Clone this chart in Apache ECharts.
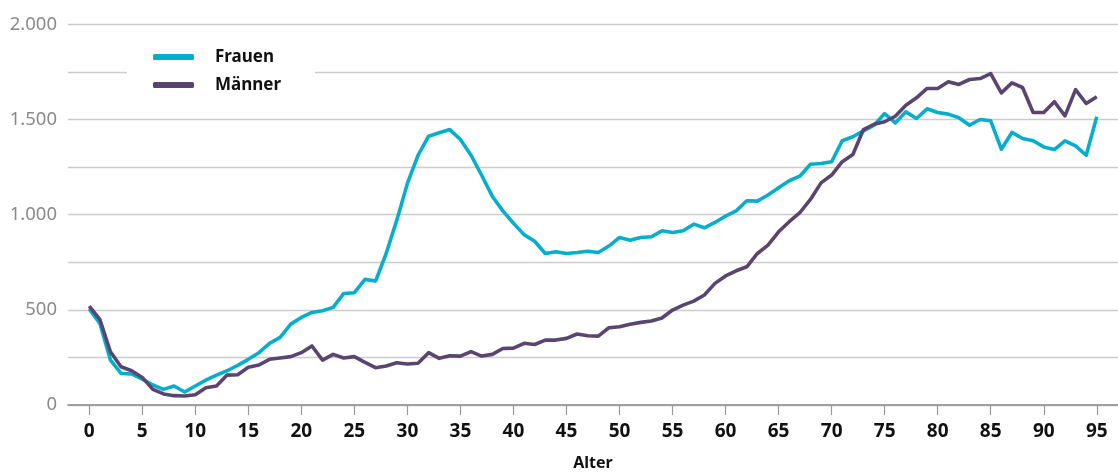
<!DOCTYPE html>
<html>
<head>
<meta charset="utf-8">
<script src="https://cdn.jsdelivr.net/npm/echarts@6/dist/echarts.min.js"></script>
<style>
html,body{margin:0;padding:0;background:#fff;}
#chart{width:1118px;height:473px;}
</style>
</head>
<body>
<div id="chart"></div>
<script>
const ages = Array.from({length: 96}, (_, i) => i);
const xTicks = [0,5,10,15,20,25,30,35,40,45,50,55,60,65,70,75,80,85,90,95];
const yLabelValues = [0, 500, 1000, 1500, 2000];
const seriesNames = ['Frauen', 'Männer'];
const frauen = [505,429,236,166,163,136,105,82,100,68,100,131,157,180,208,240,275,324,355,425,
  460,486,495,513,586,590,660,651,796,971,1164,1312,1412,1430,1447,1395,1312,1207,1097,1020,
  955,895,860,796,805,796,801,808,801,835,880,866,880,884,915,906,915,950,931,959,
  992,1020,1073,1071,1103,1141,1178,1202,1265,1269,1278,1388,1409,1440,1470,1531,1482,1540,1505,1556,
  1537,1528,1509,1470,1500,1493,1344,1432,1400,1388,1356,1342,1388,1361,1312,1514];
const maenner = [520,450,280,201,180,145,82,58,49,47,54,91,100,157,159,198,210,240,247,254,
  275,310,236,266,247,254,224,196,205,222,215,219,275,245,259,257,280,257,266,297,
  299,324,318,341,341,350,373,364,362,406,411,424,434,441,457,499,525,546,578,639,
  678,705,726,796,840,910,963,1010,1080,1167,1208,1278,1316,1447,1475,1488,1517,1575,1614,1663,
  1663,1698,1684,1710,1715,1741,1640,1692,1668,1537,1537,1593,1519,1657,1584,1619];

const colors = ['#06AECD', '#5A4571'];
function pairs(vals){ return ages.map((a,i)=>[a, vals[i]]); }
function fmt(v){ return String(v).replace(/\B(?=(\d{3})+(?!\d))/g, '.'); }

const chart = echarts.init(document.getElementById('chart'), null, {renderer:'canvas'});
chart.setOption({
  animation: false,
  backgroundColor: '#fff',
  grid: {left: 68, right: 0, top: 24.3, bottom: 68, containLabel: false, outerBoundsMode: 'none'},
  legend: {
    orient: 'vertical',
    left: 127, top: 38,
    backgroundColor: '#fff',
    padding: [9, 34, 9, 26],
    itemGap: 8,
    itemWidth: 41, itemHeight: 6,
    icon: 'roundRect',
    data: seriesNames.map((n,i)=>({name:n, itemStyle:{color:colors[i]}})),
    textStyle: {fontFamily: 'Noto Sans', fontWeight: 'bold', fontSize: 17, color: '#111', padding:[0,0,0,16], lineHeight: 20}
  },
  xAxis: {
    type: 'value', min: -2, max: 97,
    name: 'Alter', nameLocation: 'middle', nameGap: 50, nameMoveOverlap: false,
    nameTextStyle: {fontFamily: 'Noto Sans', fontWeight: 'bold', fontSize: 16, color: '#111'},
    axisLine: {show: true, onZero: false, lineStyle: {color: '#8a8a8a', width: 1.5}},
    axisTick: {show: true, length: 10, customValues: xTicks, lineStyle: {color: '#999', width: 1.2}},
    axisLabel: {customValues: xTicks, margin: 17, fontFamily: 'Noto Sans', fontWeight: 'bold', fontSize: 19, color: '#111'},
    splitLine: {show: false}
  },
  yAxis: {
    type: 'value', min: 0, max: 2000, interval: 250,
    axisLine: {show: false}, axisTick: {show: false},
    axisLabel: {
      margin: 11, fontFamily: 'Noto Sans', fontSize: 18.5, color: '#8a8a8a',
      formatter: v => yLabelValues.includes(v) ? fmt(v) : ''
    },
    splitLine: {lineStyle: {color: '#cccccc', width: 1.3}}
  },
  series: [
    {name: seriesNames[0], type: 'line', data: pairs(frauen), showSymbol: false, symbol: 'none',
     lineStyle: {color: colors[0], width: 3.6, join: 'round'}, itemStyle: {color: colors[0]}},
    {name: seriesNames[1], type: 'line', data: pairs(maenner), showSymbol: false, symbol: 'none',
     lineStyle: {color: colors[1], width: 3.6, join: 'round'}, itemStyle: {color: colors[1]}}
  ]
});
</script>
</body>
</html>
